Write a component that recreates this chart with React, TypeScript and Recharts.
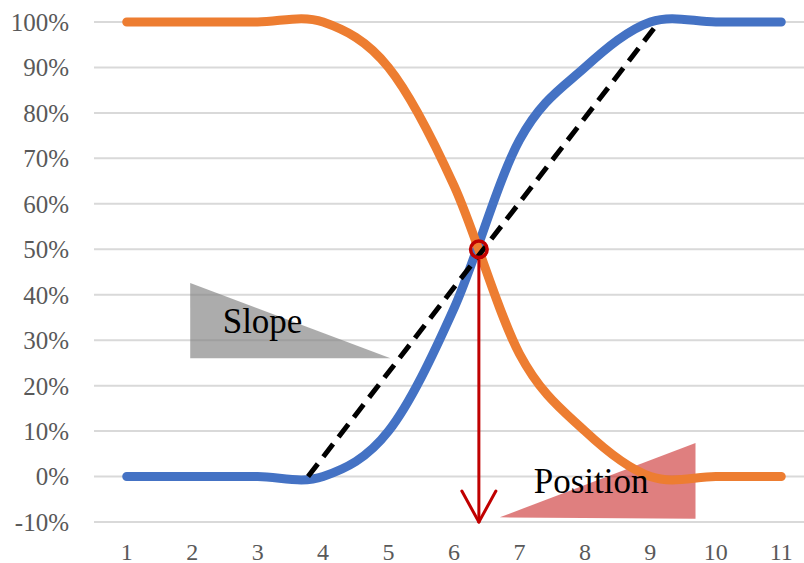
import React from "react";
import {
  LineChart,
  Line,
  XAxis,
  YAxis,
  CartesianGrid,
  ReferenceLine,
  ReferenceDot,
  ReferenceArea,
} from "recharts";

// step index on the x axis
const steps = [1, 2, 3, 4, 5, 6, 7, 8, 9, 10, 11];
// share (in %) of the rising and the falling curve at each step
const rising = [0, 0, 0, 0, 10, 37, 74, 90, 100, 100, 100];
const falling = [100, 100, 100, 100, 90, 64, 27, 10, 0, 0, 0];
const percentTicks = [-10, 0, 10, 20, 30, 40, 50, 60, 70, 80, 90, 100];

// annotations, in data units (x = step, y = %)
const slopeLine = [
  { x: 3.77, y: 0 },
  { x: 9.13, y: 100 },
];
const midPoint = { x: 6.38, y: 50 };
const arrowTop = 47.8;
const arrowTip = -10;
const arrowWing = { dx: 0.26, y: -3.2 };
const slopeTriangle = { x1: 1.97, x2: 5.03, y1: 26.0, y2: 42.6 };
const positionTriangle = { x1: 6.7, x2: 9.69, y1: -9.3, y2: 7.4 };
const slopeLabel = { x: 3.075, y: 34.3, text: "Slope" };
const positionLabel = { x: 8.095, y: -0.95, text: "Position" };

const data = steps.map((x, i) => ({ x, rising: rising[i], falling: falling[i] }));

const FONT = '"Liberation Serif", "Times New Roman", serif';

// Catmull-Rom style smoothing (the same bezier handles an office chart uses)
function smoothCurve(context: any) {
  let pts: number[][] = [];
  return {
    areaStart() {},
    areaEnd() {},
    lineStart() {
      pts = [];
    },
    point(x: number, y: number) {
      pts.push([+x, +y]);
    },
    lineEnd() {
      if (!pts.length) return;
      context.moveTo(pts[0][0], pts[0][1]);
      for (let i = 0; i < pts.length - 1; i++) {
        const p0 = pts[i - 1] || pts[i];
        const p1 = pts[i];
        const p2 = pts[i + 1];
        const p3 = pts[i + 2] || p2;
        context.bezierCurveTo(
          p1[0] + (p2[0] - p0[0]) / 6,
          p1[1] + (p2[1] - p0[1]) / 6,
          p2[0] - (p3[0] - p1[0]) / 6,
          p2[1] - (p3[1] - p1[1]) / 6,
          p2[0],
          p2[1]
        );
      }
    },
  };
}

const slopeShape = (p: any) => (
  <polygon
    points={`${p.x},${p.y} ${p.x + p.width},${p.y + p.height} ${p.x},${p.y + p.height}`}
    fill="#808080"
    fillOpacity={0.65}
  />
);

const positionShape = (p: any) => (
  <polygon
    points={`${p.x},${p.y + p.height - 1.5} ${p.x + p.width},${p.y} ${p.x + p.width},${p.y + p.height}`}
    fill="#C00000"
    fillOpacity={0.5}
  />
);

const labelStyle = { fontSize: 35, fill: "#000", fontFamily: FONT };

export default function App() {
  return (
    <div
      style={{
        position: "absolute",
        left: 0,
        top: 0,
        width: 804,
        height: 563,
        overflow: "hidden",
        background: "#fff",
      }}
    >
      <LineChart
        width={814}
        height={563}
        data={data}
        margin={{ top: 22, right: 0, bottom: 0, left: 0 }}
      >
        <CartesianGrid vertical={false} stroke="#D9D9D9" strokeWidth={2} />
        <XAxis
          dataKey="x"
          type="number"
          domain={[0.5, 11.5]}
          ticks={steps}
          interval={0}
          axisLine={false}
          tickLine={false}
          tickSize={0}
          tickMargin={21}
          height={41}
          tick={{ fontSize: 24, fill: "#595959", fontFamily: FONT }}
        />
        <YAxis
          type="number"
          domain={[-10, 100]}
          ticks={percentTicks}
          interval={0}
          width={94}
          axisLine={false}
          tickLine={false}
          tickSize={0}
          tickMargin={25}
          tickFormatter={(v: number) => `${v}%`}
          tick={{ fontSize: 25, fill: "#595959", fontFamily: FONT }}
        />

        <ReferenceArea
          x1={slopeTriangle.x1}
          x2={slopeTriangle.x2}
          y1={slopeTriangle.y1}
          y2={slopeTriangle.y2}
          shape={slopeShape}
        />

        <Line
          dataKey="rising"
          type={smoothCurve as any}
          stroke="#4472C4"
          strokeWidth={9}
          strokeLinecap="round"
          dot={false}
          activeDot={false}
          isAnimationActive={false}
        />
        <Line
          dataKey="falling"
          type={smoothCurve as any}
          stroke="#ED7D31"
          strokeWidth={9}
          strokeLinecap="round"
          dot={false}
          activeDot={false}
          isAnimationActive={false}
        />

        <ReferenceLine
          segment={slopeLine}
          stroke="#000"
          strokeWidth={5}
          strokeDasharray="16 9"
        />

        <ReferenceArea
          x1={positionTriangle.x1}
          x2={positionTriangle.x2}
          y1={positionTriangle.y1}
          y2={positionTriangle.y2}
          shape={positionShape}
        />

        {/* arrow from the midpoint down to the axis */}
        <ReferenceLine
          segment={[
            { x: midPoint.x, y: arrowTop },
            { x: midPoint.x, y: arrowTip },
          ]}
          stroke="#C00000"
          strokeWidth={3}
        />
        <ReferenceLine
          segment={[
            { x: midPoint.x - arrowWing.dx, y: arrowWing.y },
            { x: midPoint.x, y: arrowTip },
          ]}
          stroke="#C00000"
          strokeWidth={3}
          strokeLinecap="round"
        />
        <ReferenceLine
          segment={[
            { x: midPoint.x + arrowWing.dx, y: arrowWing.y },
            { x: midPoint.x, y: arrowTip },
          ]}
          stroke="#C00000"
          strokeWidth={3}
          strokeLinecap="round"
        />
        <ReferenceDot
          x={midPoint.x}
          y={midPoint.y}
          r={8.3}
          fill="none"
          stroke="#C00000"
          strokeWidth={3.5}
        />

        <ReferenceDot
          x={slopeLabel.x}
          y={slopeLabel.y}
          r={0}
          fill="none"
          stroke="none"
          label={{ value: slopeLabel.text, position: "center", ...labelStyle }}
        />
        <ReferenceDot
          x={positionLabel.x}
          y={positionLabel.y}
          r={0}
          fill="none"
          stroke="none"
          label={{ value: positionLabel.text, position: "center", ...labelStyle }}
        />
      </LineChart>
    </div>
  );
}
